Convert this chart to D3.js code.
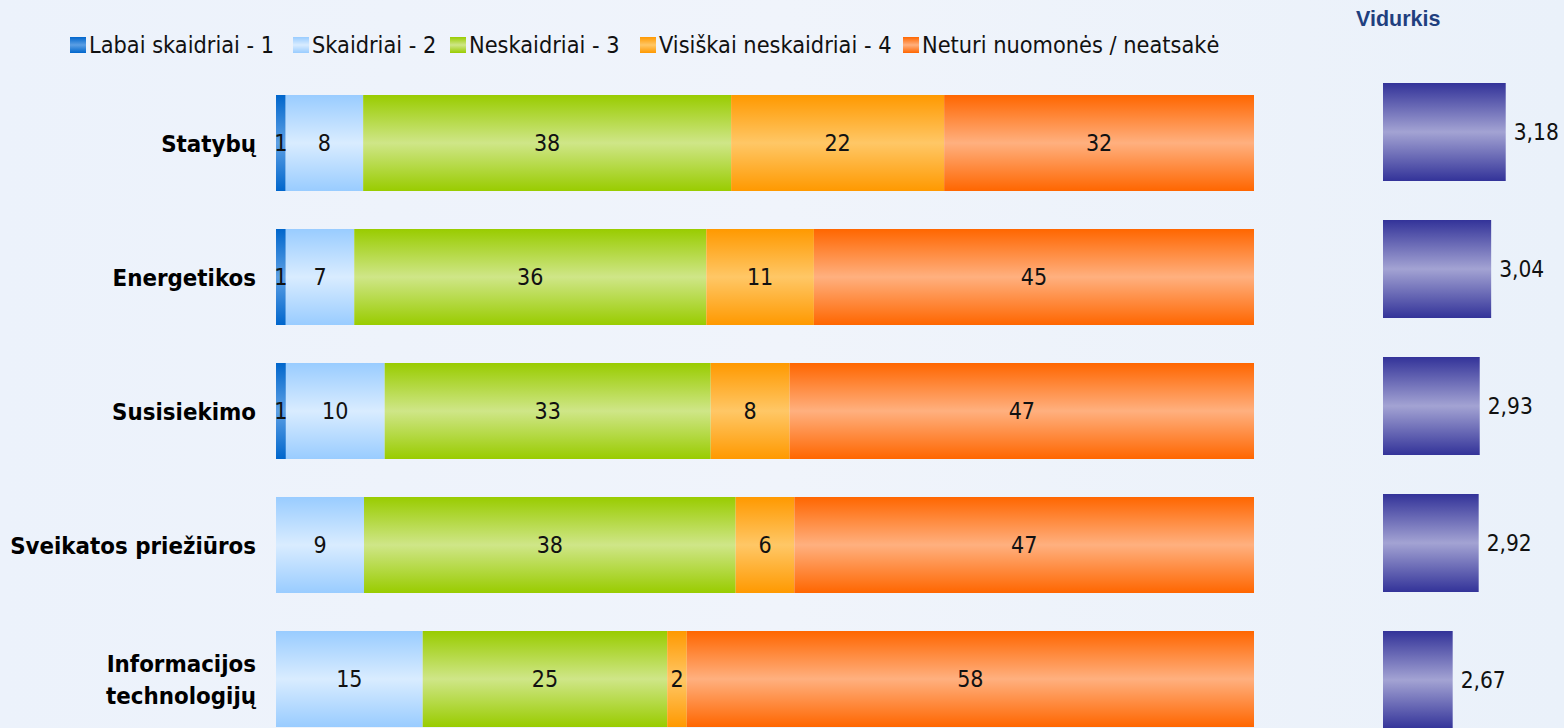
<!DOCTYPE html>
<html>
<head>
<meta charset="utf-8">
<script src="https://cdn.jsdelivr.net/npm/d3@7"></script>
<style>
  html, body { margin: 0; padding: 0; }
  body { width: 1564px; height: 728px; overflow: hidden; }
  svg { display: block; }
</style>
</head>
<body>
<svg id="chart" width="1564" height="728"></svg>
<script>
// Sectors and answer shares (%)
const categories = ["Statybų", "Energetikos", "Susisiekimo", "Sveikatos priežiūros", "Informacijos technologijų"];
const seriesNames = ["Labai skaidriai - 1", "Skaidriai - 2", "Neskaidriai - 3", "Visiškai neskaidriai - 4", "Neturi nuomonės / neatsakė"];
const labaiSkaidriai = [1, 1, 1, 0, 0];
const skaidriai = [8, 7, 10, 9, 15];
const neskaidriai = [38, 36, 33, 38, 25];
const visiskaiNeskaidriai = [22, 11, 8, 6, 2];
const neturiNuomones = [32, 45, 47, 47, 58];
// Average score per sector
const vidurkis = [3.18, 3.04, 2.93, 2.92, 2.67];
const vidurkisTitle = "Vidurkis";

const seriesValues = [labaiSkaidriai, skaidriai, neskaidriai, visiskaiNeskaidriai, neturiNuomones];
const seriesColors = [
  { edge: "#0066cc", mid: "#5c9fe4" },
  { edge: "#99ccff", mid: "#d9ecff" },
  { edge: "#99cc00", mid: "#cfe688" },
  { edge: "#ff9900", mid: "#ffc766" },
  { edge: "#ff6600", mid: "#ffb07f" }
];
const avgColor = { edge: "#333399", mid: "#a3a3d3" };

const svg = d3.select("#chart");
const W = 1564, H = 728;
const defs = svg.append("defs");

// Page background
const bg = defs.append("linearGradient").attr("id", "bg").attr("x1", 0).attr("x2", 1).attr("y1", 0).attr("y2", 0);
bg.append("stop").attr("offset", 0).attr("stop-color", "#ecf2fb");
bg.append("stop").attr("offset", 0.5).attr("stop-color", "#f0f4fb");
bg.append("stop").attr("offset", 1).attr("stop-color", "#eaf1fa");
svg.append("rect").attr("width", W).attr("height", H).attr("fill", "url(#bg)");

// Glossy vertical gradients for bars
function gloss(id, c) {
  const g = defs.append("linearGradient").attr("id", id).attr("x1", 0).attr("x2", 0).attr("y1", 0).attr("y2", 1);
  g.append("stop").attr("offset", 0).attr("stop-color", c.edge);
  g.append("stop").attr("offset", 0.5).attr("stop-color", c.mid);
  g.append("stop").attr("offset", 1).attr("stop-color", c.edge);
}
seriesColors.forEach((c, i) => gloss("g" + i, c));
gloss("gavg", avgColor);

const font = "Tahoma, 'DejaVu Sans Condensed', 'DejaVu Sans', sans-serif";

// Rows
const rows = categories.map((name, r) => {
  const vals = seriesValues.map(s => s[r]);
  return { name, vals, total: d3.sum(vals) };
});

const y = d3.scaleBand().domain(categories)
  .range([95, 95 + 134 * 5 - 38]).paddingInner(38 / 134).paddingOuter(0);

const x = d3.scaleLinear().domain([0, 100]).range([276, 1254]);

const rowG = svg.append("g").selectAll("g").data(rows).join("g")
  .attr("transform", d => `translate(0,${y(d.name)})`);

rowG.each(function (row) {
  const g = d3.select(this);
  const norm = d3.scaleLinear().domain([0, row.total]).range([0, 100]);
  let acc = 0;
  const segs = row.vals.map((v, i) => {
    const s = { i, v, x0: norm(acc), x1: norm(acc + v) };
    acc += v;
    return s;
  }).filter(s => s.v > 0);
  g.selectAll("rect").data(segs).join("rect")
    .attr("x", s => x(s.x0))
    .attr("width", s => x(s.x1) - x(s.x0))
    .attr("y", 0)
    .attr("height", y.bandwidth())
    .attr("fill", s => `url(#g${s.i})`);
  g.selectAll("text.val").data(segs).join("text")
    .attr("class", "val")
    .attr("x", s => (x(s.x0) + x(s.x1)) / 2)
    .attr("y", y.bandwidth() / 2)
    .attr("dy", "0.36em")
    .attr("text-anchor", "middle")
    .attr("font-family", font)
    .attr("font-size", 23)
    .attr("fill", "#111")
    .text(s => s.v);
});

// Category labels (bold, right aligned, wrapped on long names)
rowG.append("text")
  .attr("text-anchor", "end")
  .attr("font-family", font)
  .attr("font-weight", "bold")
  .attr("font-size", 23.8)
  .attr("fill", "#000")
  .each(function (d) {
    const t = d3.select(this);
    const lines = d.name === "Informacijos technologijų" ? ["Informacijos", "technologijų"] : [d.name];
    const lh = 32;
    lines.forEach((ln, k) => {
      t.append("tspan")
        .attr("x", 256)
        .attr("y", y.bandwidth() / 2 + (k - (lines.length - 1) / 2) * lh)
        .attr("dy", "0.36em")
        .text(ln);
    });
  });

// Average score column
const yAvg = d3.scaleBand().domain(categories)
  .range([83, 83 + 137 * 5 - 39]).paddingInner(39 / 137).paddingOuter(0);
const xAvg = d3.scaleLinear().domain([2, 4]).range([1383, 1383 + 208]);

const avgG = svg.append("g").selectAll("g").data(categories).join("g")
  .attr("transform", d => `translate(0,${yAvg(d)})`);
avgG.append("rect")
  .attr("x", xAvg(2))
  .attr("y", 0)
  .attr("width", (d, i) => xAvg(vidurkis[i]) - xAvg(2))
  .attr("height", yAvg.bandwidth())
  .attr("fill", "url(#gavg)");
avgG.append("text")
  .attr("x", (d, i) => xAvg(vidurkis[i]) + 8)
  .attr("y", yAvg.bandwidth() / 2)
  .attr("dy", "0.36em")
  .attr("font-family", font)
  .attr("font-size", 22.5)
  .attr("fill", "#111")
  .text((d, i) => d3.format(".2f")(vidurkis[i]).replace(".", ","));

svg.append("text")
  .attr("x", 1356)
  .attr("y", 26)
  .attr("font-family", "Arial, 'Liberation Sans', sans-serif")
  .attr("font-weight", "bold")
  .attr("font-size", 21.5)
  .attr("fill", "#1f3f7f")
  .text(vidurkisTitle);

// Legend
const legendX = [70, 293, 450, 640, 903];
const leg = svg.append("g").selectAll("g").data(seriesNames).join("g")
  .attr("transform", (d, i) => `translate(${legendX[i]},37)`);
leg.append("rect").attr("width", 16).attr("height", 16).attr("fill", (d, i) => `url(#g${i})`);
leg.append("text")
  .attr("x", 19)
  .attr("y", 8)
  .attr("dy", "0.36em")
  .attr("font-family", font)
  .attr("font-size", 23.3)
  .attr("fill", "#111")
  .text(d => d);
</script>
</body>
</html>
